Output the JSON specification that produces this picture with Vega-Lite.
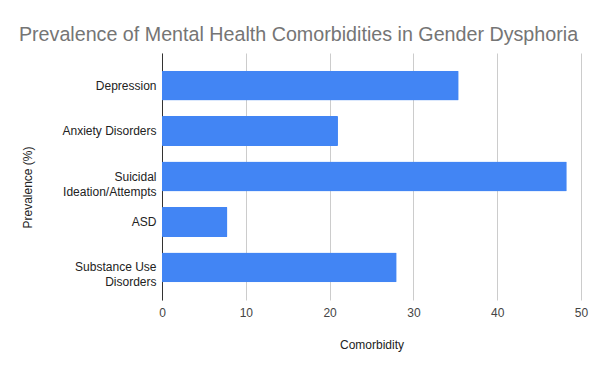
{
  "$schema": "https://vega.github.io/schema/vega-lite/v6.json",
  "autosize": {"type": "none"},
  "width": 419,
  "height": 247,
  "padding": {"left": 162, "top": 53, "right": 19, "bottom": 71},
  "background": "white",
  "config": {
    "font": "Liberation Sans",
    "view": {"stroke": null}
  },
  "title": {
    "text": "Prevalence of Mental Health Comorbidities in Gender Dysphoria",
    "font": "Liberation Sans",
    "fontSize": 19.7,
    "fontWeight": "normal",
    "color": "#757575",
    "anchor": "middle",
    "dx": -73,
    "offset": 8
  },
  "data": {
    "values": [
      {"comorbidity": "Depression", "prevalence": 35.4},
      {"comorbidity": "Anxiety Disorders", "prevalence": 21.0},
      {"comorbidity": "Suicidal Ideation/Attempts", "prevalence": 48.3},
      {"comorbidity": "ASD", "prevalence": 7.8},
      {"comorbidity": "Substance Use Disorders", "prevalence": 28.0}
    ]
  },
  "mark": {"type": "bar", "color": "#4285F4", "cornerRadius": 1},
  "encoding": {
    "y": {
      "field": "comorbidity",
      "type": "nominal",
      "sort": null,
      "scale": {"paddingInner": 0.343, "paddingOuter": 0.388},
      "axis": {
        "title": "Prevalence (%)",
        "titleFont": "Liberation Sans",
        "titleFontSize": 12,
        "titleFontWeight": "normal",
        "titleColor": "#222222",
        "titleX": -135,
        "titleY": 134,
        "titleAngle": -90,
        "titleAlign": "center",
        "titleBaseline": "middle",
        "labelFont": "Liberation Sans",
        "labelFontSize": 12,
        "labelColor": "#222222",
        "labelPadding": 6,
        "labelLineHeight": 15,
        "labelLimit": 200,
        "labelExpr": "datum.label == 'Suicidal Ideation/Attempts' ? ['Suicidal', 'Ideation/Attempts'] : datum.label == 'Substance Use Disorders' ? ['Substance Use', 'Disorders'] : datum.label",
        "ticks": false,
        "domain": true,
        "domainColor": "#333333",
        "domainWidth": 1,
        "grid": false
      }
    },
    "x": {
      "field": "prevalence",
      "type": "quantitative",
      "scale": {"domain": [0, 50], "nice": false},
      "axis": {
        "title": "Comorbidity",
        "titleFont": "Liberation Sans",
        "titleFontSize": 12,
        "titleFontWeight": "normal",
        "titleColor": "#222222",
        "titlePadding": 21,
        "values": [0, 10, 20, 30, 40, 50],
        "labelFont": "Liberation Sans",
        "labelFontSize": 12,
        "labelColor": "#444444",
        "labelPadding": 7,
        "labelFlush": false,
        "ticks": false,
        "domain": false,
        "grid": true,
        "gridColor": "#cccccc",
        "gridWidth": 1
      }
    }
  }
}
